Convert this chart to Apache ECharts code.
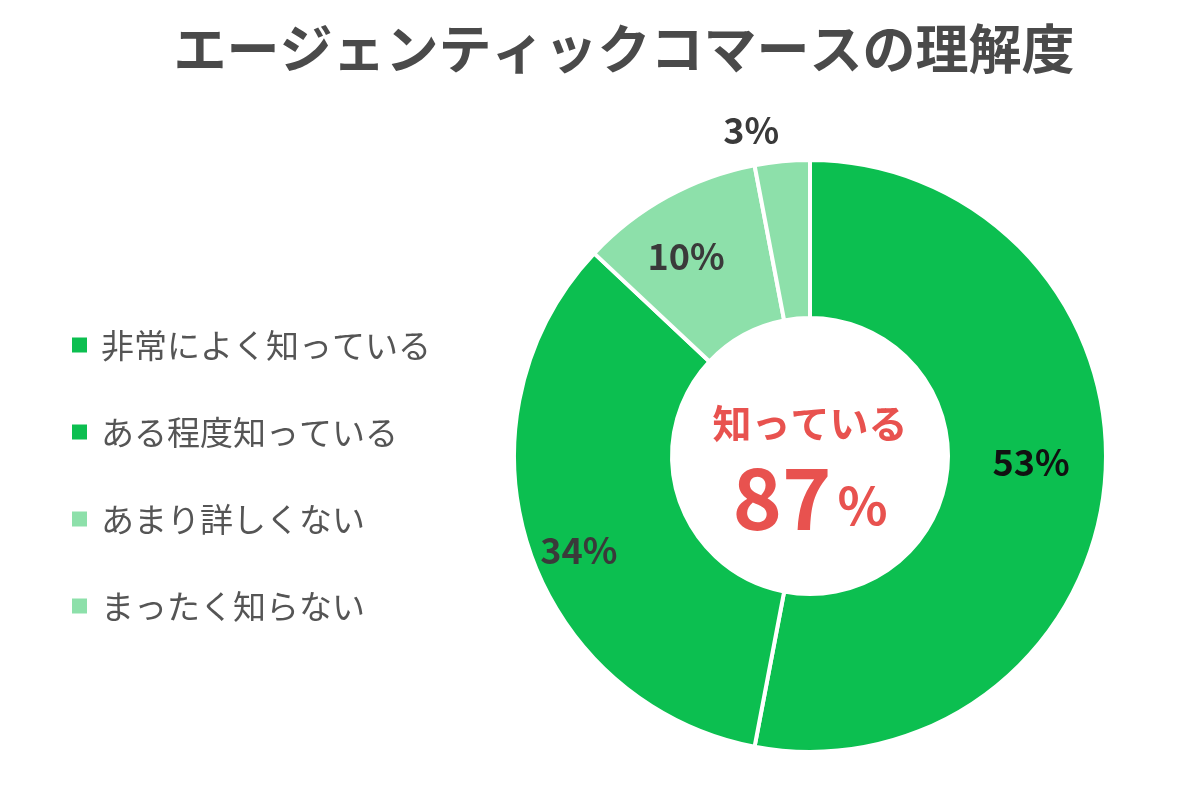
<!DOCTYPE html>
<html><head><meta charset="utf-8">
<script src="https://cdn.jsdelivr.net/npm/echarts@6/dist/echarts.min.js"></script>
<style>html,body{margin:0;padding:0;background:#fff}#c{width:1200px;height:788px}</style>
</head><body><div id="c"></div>
<script>
const categories = ['非常によく知っている','ある程度知っている','あまり詳しくない','まったく知らない'];
const values = [53, 34, 10, 3];
const colors = ['#0CBF50','#0CBF50','#8DE0AA','#8DE0AA'];
const labelColors = ['#111111','#3a3a3a','#3a3a3a','#3a3a3a'];
const labelOffsets = [[2,-14],[-22,26],[-18,-7],[-38,-107]];
const centerLabel = '知っている';
const centerValue = '87';

const FONT = '"Noto Sans CJK JP","Noto Sans",sans-serif';
const chart = echarts.init(document.getElementById('c'));
chart.setOption({
  animation:false,
  title:{text:'エージェンティックコマースの理解度',left:619,top:17,textAlign:'center',
    textStyle:{fontFamily:FONT,fontSize:53,fontWeight:'bold',color:'#4a4a4a'}},
  legend:{orient:'vertical',left:70,top:328,padding:0,icon:'rect',itemWidth:17,itemHeight:17,itemGap:53,
    data:categories,
    textStyle:{fontFamily:FONT,fontSize:33,color:'#555555',lineHeight:34,padding:[0,0,0,8]}},
  series:[{
    type:'pie',center:[810,456],radius:[138,296],startAngle:90,clockwise:true,
    avoidLabelOverlap:false,
    itemStyle:{borderColor:'#ffffff',borderWidth:4},
    label:{show:true,position:'inside',formatter:'{c}%',fontFamily:FONT,fontSize:36,fontWeight:'bold'},
    labelLine:{show:false},
    emphasis:{disabled:true},
    data:categories.map((n,i)=>({name:n,value:values[i],
      itemStyle:{color:colors[i]},
      label:{color:labelColors[i],offset:labelOffsets[i]}}))
  }],
  graphic:[
    {type:'text',x:810,y:423,
     style:{text:centerLabel,fill:'#E8524F',font:'bold 39px '+FONT,textAlign:'center',textVerticalAlign:'middle'}},
    {type:'text',x:810,y:498,
     style:{text:'{a|'+centerValue+'}{b|%}',textAlign:'center',textVerticalAlign:'middle',
       rich:{a:{fontFamily:FONT,fontSize:84,fontWeight:'bold',fill:'#E8524F',color:'#E8524F',padding:[0,6,0,0]},
             b:{fontFamily:FONT,fontSize:52,fontWeight:'bold',fill:'#E8524F',color:'#E8524F',padding:[14,0,0,0]}}}}
  ]
});
</script></body></html>
